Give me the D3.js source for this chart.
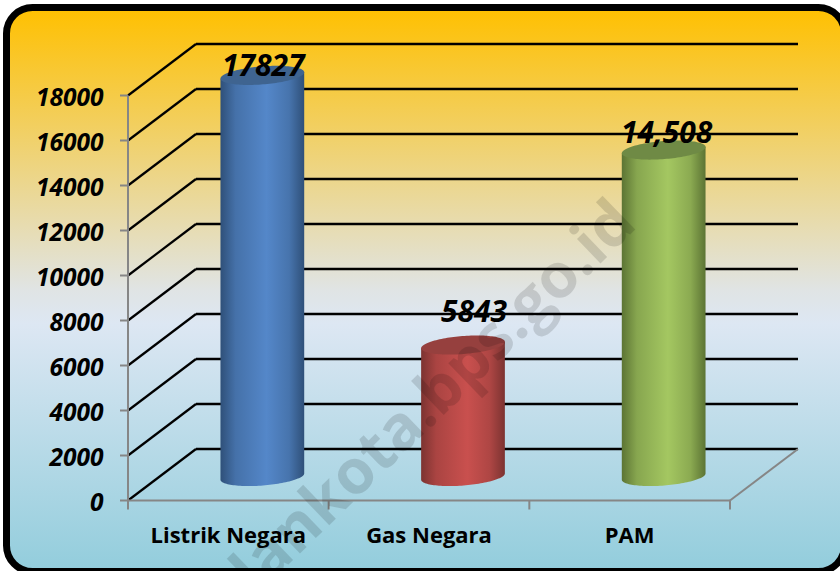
<!DOCTYPE html>
<html><head><meta charset="utf-8">
<script src="https://cdn.jsdelivr.net/npm/d3@7"></script>
<style>html,body{margin:0;padding:0;background:#fff}svg{display:block}text{font-family:"Open Sans","Noto Sans",sans-serif}</style>
</head><body><svg id="c" width="840" height="571"></svg>
<script>
const categories=["Listrik Negara","Gas Negara","PAM"];
const values=[17827,5843,14508];
const valueLabels=["17827","5843","14,508"];
const yTicks=[0,2000,4000,6000,8000,10000,12000,14000,16000,18000];
const edgeColors=["#2f5079","#7c3331","#5c7434"];
const midColors=["#5487c9","#c9504e","#a4c761"];
const capColors=["#3f6490","#96403e","#6f8a45"];

const svg=d3.select("#c"), defs=svg.append("defs");
const x=d3.scaleBand().domain(categories).range([128,730]);
const y=d3.scaleLinear().domain([0,18000]).range([500.5,95.5]);
const dx=68,dy=-51.5,backRight=798;

const bg=defs.append("linearGradient").attr("id","bg").attr("x1",0).attr("x2",0).attr("y1",0).attr("y2",1);
[[0,"#ffc000"],[0.5,"#e0e4e4"],[0.56,"#dde7f3"],[1,"#92cddc"]].forEach(s=>bg.append("stop").attr("offset",s[0]).attr("stop-color",s[1]));

svg.append("rect").attr("x",6.5).attr("y",7.5).attr("width",838).attr("height",564).attr("rx",26)
  .attr("fill","url(#bg)").attr("stroke","#000").attr("stroke-width",7);

const grid=svg.append("g");
yTicks.forEach(t=>{
  grid.append("line").attr("x1",x.range()[0]+dx).attr("x2",backRight).attr("y1",y(t)+dy).attr("y2",y(t)+dy)
    .attr("stroke","#000").attr("stroke-width",2.4);
  grid.append("line").attr("x1",x.range()[0]).attr("x2",x.range()[0]+dx).attr("y1",y(t)).attr("y2",y(t)+dy)
    .attr("stroke","#000").attr("stroke-width",2.2);
});
const ax="#868686";
svg.append("line").attr("x1",x.range()[1]).attr("x2",backRight).attr("y1",y(0)).attr("y2",y(0)+dy).attr("stroke",ax).attr("stroke-width",2);
svg.append("line").attr("x1",x.range()[0]).attr("x2",x.range()[1]).attr("y1",y(0)).attr("y2",y(0)).attr("stroke",ax).attr("stroke-width",2);
svg.append("line").attr("x1",x.range()[0]).attr("x2",x.range()[0]).attr("y1",y(18000)).attr("y2",y(0)+8).attr("stroke",ax).attr("stroke-width",2);
yTicks.forEach(t=>svg.append("line").attr("x1",120).attr("x2",128).attr("y1",y(t)).attr("y2",y(t)).attr("stroke",ax).attr("stroke-width",2));
[...categories.map(c=>x(c)),x.range()[1]].forEach(v=>svg.append("line").attr("x1",v).attr("x2",v).attr("y1",y(0)).attr("y2",y(0)+9).attr("stroke",ax).attr("stroke-width",2));

svg.append("g").selectAll("text").data(yTicks).join("text")
  .attr("x",103.5).attr("y",d=>y(d)+10).attr("text-anchor","end")
  .attr("font-size",24.5).attr("font-weight",700).attr("font-style","italic").attr("fill","#000")
  .text(d=>d);

svg.append("g").selectAll("text").data(categories).join("text")
  .attr("x",d=>x(d)+x.bandwidth()/2).attr("y",543).attr("text-anchor","middle")
  .attr("font-size",22).attr("font-weight",700).attr("fill","#000").text(d=>d);

const lift=24, rx=42, ry=9, tilt=-4.5*Math.PI/180;
const labelDx=[1,11,3], labelDy=[1,-23,-7.5];
const line=d3.line();
const rim=(cx,cy,a)=>[cx+rx*Math.cos(a)*Math.cos(tilt)-ry*Math.sin(a)*Math.sin(tilt),
                      cy+rx*Math.cos(a)*Math.sin(tilt)+ry*Math.sin(a)*Math.cos(tilt)];
categories.forEach((c,i)=>{
  const cx=x(c)+x.bandwidth()/2+dx/2;
  const g=defs.append("linearGradient").attr("id","cyl"+i);
  [[0,edgeColors[i]],[0.18,d3.interpolateRgb(edgeColors[i],midColors[i])(0.6)],[0.55,midColors[i]],[0.82,d3.interpolateRgb(edgeColors[i],midColors[i])(0.65)],[1,edgeColors[i]]]
    .forEach(s=>g.append("stop").attr("offset",s[0]).attr("stop-color",s[1]));
  const top=y(values[i])-lift, bot=y(0)-lift;
  const angles=d3.range(0,61).map(k=>Math.PI-k*Math.PI/60);
  const pts=[rim(cx,top,Math.PI),...angles.map(a=>rim(cx,bot,a)),rim(cx,top,0)];
  svg.append("path").attr("d",line(pts)+"Z").attr("fill",`url(#cyl${i})`);
  const capPts=d3.range(0,121).map(k=>rim(cx,top,k*Math.PI/60));
  svg.append("path").attr("d",line(capPts)+"Z").attr("fill",capColors[i]);
  svg.append("text").attr("x",cx+labelDx[i]).attr("y",top+labelDy[i])
    .attr("text-anchor","middle").attr("font-size",30).attr("font-weight",700).attr("font-style","italic").attr("fill","#000")
    .text(valueLabels[i]);
});

svg.append("text").attr("transform","translate(256,596) rotate(-44)")
  .attr("font-size",62).attr("font-weight",700).attr("fill","#000").attr("fill-opacity",0.13)
  .text("lankota.bps.go.id");
</script></body></html>
